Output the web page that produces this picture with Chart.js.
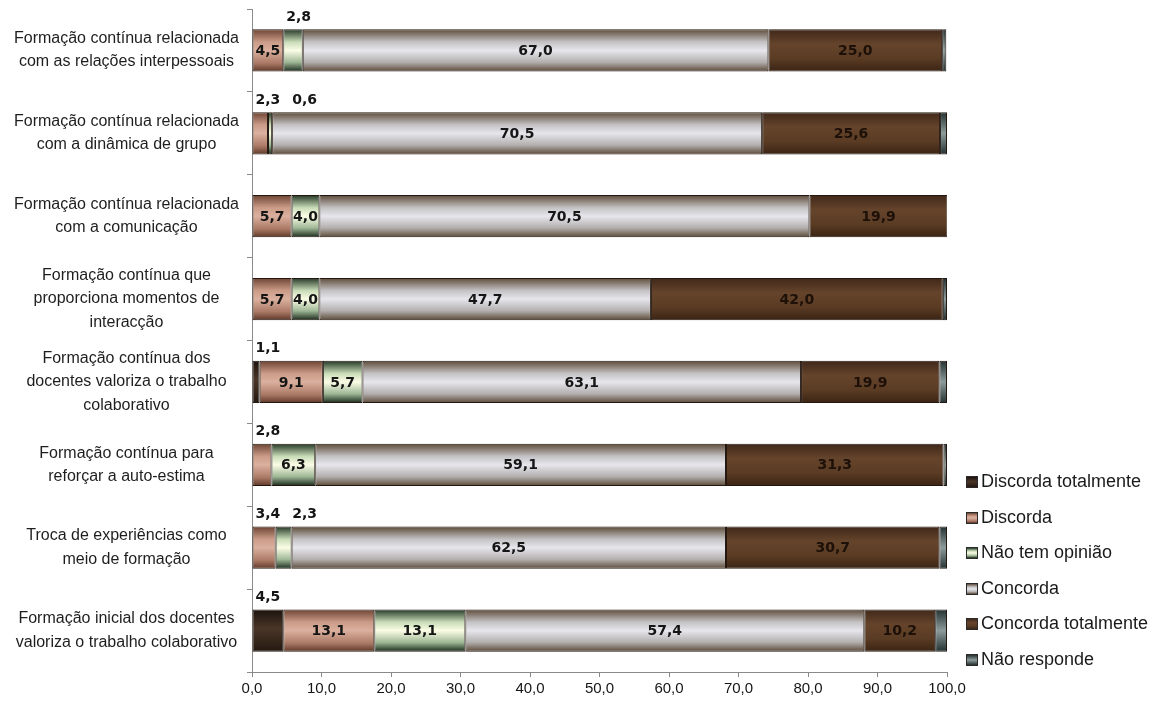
<!DOCTYPE html>
<html>
<head>
<meta charset="utf-8">
<script src="https://cdn.jsdelivr.net/npm/chart.js@4/dist/chart.umd.min.js"></script>
<style>
  html, body { margin: 0; padding: 0; background: #fff; }
  #wrap { position: relative; width: 1166px; height: 708px; }
  #legend {
    position: absolute; left: 966px; top: 466px; margin: 0; padding: 0; list-style: none;
    font-family: "Liberation Sans", Arial, sans-serif; font-size: 18px; color: #1a1a1a;
  }
  #legend li { height: 35.6px; line-height: 30px; white-space: nowrap; }
  #legend span.box {
    display: inline-block; width: 10px; height: 10px; margin-right: 3px;
    border: 1px solid #2a2a2a; vertical-align: -1px;
  }
</style>
</head>
<body>
<div id="wrap">
  <canvas id="chart" width="1166" height="708"></canvas>
  <ul id="legend"></ul>
</div>
<script>
'use strict';

// categories (top to bottom)
const categories = [
  ['Formação contínua relacionada', 'com as relações interpessoais'],
  ['Formação contínua relacionada', 'com a dinâmica de grupo'],
  ['Formação contínua relacionada', 'com a comunicação'],
  ['Formação contínua que', 'proporciona momentos de', 'interacção'],
  ['Formação contínua dos', 'docentes valoriza o trabalho', 'colaborativo'],
  ['Formação contínua para', 'reforçar a auto-estima'],
  ['Troca de experiências como', 'meio de formação'],
  ['Formação inicial dos docentes', 'valoriza o trabalho colaborativo']
];

const seriesNames = [
  'Discorda totalmente', 'Discorda', 'Não tem opinião',
  'Concorda', 'Concorda totalmente', 'Não responde'
];

// values in %
const discordaTotalmente  = [0,    0,    0,    0,    1.1,  0,    0,    4.5];
const discorda            = [4.5,  2.3,  5.7,  5.7,  9.1,  2.8,  3.4,  13.1];
const naoTemOpiniao       = [2.8,  0.6,  4.0,  4.0,  5.7,  6.3,  2.3,  13.1];
const concorda            = [67.0, 70.5, 70.5, 47.7, 63.1, 59.1, 62.5, 57.4];
const concordaTotalmente  = [25.0, 25.6, 19.9, 42.0, 19.9, 31.3, 30.7, 10.2];
const naoResponde         = [0.6,  1.0,  0,    0.6,  1.1,  0.5,  1.1,  1.7];

const xTicks = [0, 10, 20, 30, 40, 50, 60, 70, 80, 90, 100];

// gradient stops (top -> bottom) for the cylinder look
const shades = [
  [[0, '#1c130d'], [0.45, '#4a3628'], [1, '#24180f']],
  [[0, '#6e4434'], [0.3, '#cb9c88'], [0.5, '#dbb09e'], [0.8, '#ab7a66'], [1, '#5e3828']],
  [[0, '#243826'], [0.3, '#c9dcb8'], [0.5, '#fbfde6'], [0.78, '#9fb896'], [1, '#1a2a1c']],
  [[0, '#5e4c3a'], [0.3, '#c4c2c4'], [0.5, '#e6e6ec'], [0.78, '#b3afae'], [1, '#5c4a38']],
  [[0, '#40281a'], [0.35, '#65442b'], [0.7, '#5a3b23'], [1, '#3a2414']],
  [[0, '#243232'], [0.5, '#8c9c9a'], [1, '#243232']]
];
const flat = ['#3a2a1e', '#c99a88', '#eef3dc', '#c8c8cc', '#5a3b24', '#4e6262'];

const BAR_HALF = 21;

function fill(i) {
  return function (ctx) {
    const chart = ctx.chart;
    const y = chart.scales && chart.scales.y;
    if (!y || ctx.dataIndex === undefined) return flat[i];
    const cy = y.getPixelForValue(ctx.dataIndex);
    if (!isFinite(cy)) return flat[i];
    const g = chart.ctx.createLinearGradient(0, cy - BAR_HALF, 0, cy + BAR_HALF);
    shades[i].forEach(s => g.addColorStop(s[0], s[1]));
    return g;
  };
}

const allValues = [discordaTotalmente, discorda, naoTemOpiniao, concorda, concordaTotalmente, naoResponde];

const datasets = allValues.map((vals, i) => ({
  label: seriesNames[i],
  data: vals,
  backgroundColor: fill(i),
  borderColor: '#23170f',
  borderWidth: 1,
  borderSkipped: false,
  categoryPercentage: 1,
  barPercentage: 0.51
}));

const fmt = v => v.toFixed(1).replace('.', ',');

// value labels: inside the segment, or above the bar for small / dark ones
const valueLabels = {
  id: 'valueLabels',
  afterDatasetsDraw(chart) {
    const ctx = chart.ctx;
    ctx.save();
    ctx.font = 'bold 14px "DejaVu Sans", Verdana, sans-serif';
    ctx.textBaseline = 'middle';
    categories.forEach((c, idx) => {
      let lastEnd = -Infinity;
      chart.data.datasets.forEach((ds, di) => {
        const v = ds.data[idx];
        if (!v || di === 5) return;
        const bar = chart.getDatasetMeta(di).data[idx];
        const x0 = Math.min(bar.base, bar.x), x1 = Math.max(bar.base, bar.x);
        const text = fmt(v);
        if (di === 0 || v < 4) {
          const tx = Math.max(x0 + 3, lastEnd + 12);
          ctx.textAlign = 'left';
          ctx.fillStyle = '#151515';
          ctx.fillText(text, tx, bar.y - bar.height / 2 - 12);
          lastEnd = tx + ctx.measureText(text).width;
        } else {
          ctx.textAlign = 'center';
          ctx.fillStyle = di === 4 ? '#1c1008' : '#151515';
          ctx.fillText(text, (x0 + x1) / 2, bar.y + 1);
        }
      });
    });
    ctx.restore();
  }
};

const chart = new Chart(document.getElementById('chart').getContext('2d'), {
  type: 'bar',
  data: { labels: categories, datasets },
  options: {
    indexAxis: 'y',
    responsive: false,
    animation: false,
    layout: { padding: { left: 10, right: 219, top: 9, bottom: 6 } },
    plugins: { legend: { display: false }, tooltip: { enabled: false } },
    scales: {
      x: {
        stacked: true,
        min: 0,
        max: 100,
        afterBuildTicks: s => { s.ticks = xTicks.map(v => ({ value: v })); },
        afterFit: s => { s.height = 30; },
        grid: { drawOnChartArea: false, tickLength: 5, color: '#8a8a8a' },
        border: { color: '#8a8a8a' },
        ticks: {
          padding: 3,
          color: '#151515',
          font: { family: '"Liberation Sans", Arial, sans-serif', size: 15 },
          callback: v => fmt(v)
        }
      },
      y: {
        stacked: true,
        afterFit: s => { s.width = 242; s.paddingTop = 0; s.paddingBottom = 0; },
        grid: { drawOnChartArea: false, tickLength: 5, color: '#8a8a8a' },
        border: { color: '#8a8a8a' },
        ticks: {
          crossAlign: 'center',
          padding: 8,
          color: '#1e1e1e',
          font: { family: '"Liberation Sans", Arial, sans-serif', size: 16, lineHeight: 1.45 }
        }
      }
    }
  },
  plugins: [valueLabels]
});

// html legend
const legend = document.getElementById('legend');
seriesNames.forEach((name, i) => {
  const li = document.createElement('li');
  const box = document.createElement('span');
  box.className = 'box';
  box.style.background = 'linear-gradient(' + shades[i].map(s => s[1] + ' ' + (s[0] * 100) + '%').join(',') + ')';
  li.appendChild(box);
  li.appendChild(document.createTextNode(name));
  legend.appendChild(li);
});
</script>
</body>
</html>
